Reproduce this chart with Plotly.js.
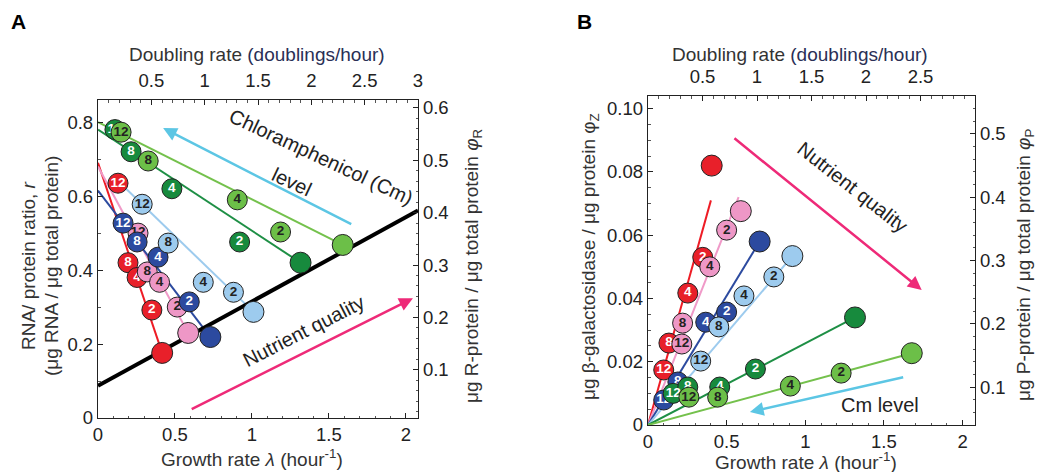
<!DOCTYPE html>
<html><head><meta charset="utf-8">
<script src="https://cdn.plot.ly/plotly-3.0.1.min.js"></script>
<style>html,body{margin:0;padding:0;background:#fff}#chart{width:1039px;height:472px}</style>
</head><body><div id="chart"></div>
<script>
// ---------- labels ----------
const pointLabels = ['12', '8', '4', '2'];
const seriesKeys = ['red', 'pink', 'darkblue', 'lightblue', 'darkgreen', 'lightgreen'];
const xTickVals = [0, 0.5, 1, 1.5, 2];
const topTickValsA = [0.5, 1, 1.5, 2, 2.5, 3];
const topTickValsB = [0.5, 1, 1.5, 2, 2.5];
const yTickValsA = [0, 0.2, 0.4, 0.6, 0.8];
const y2TickValsA = [0.1, 0.2, 0.3, 0.4, 0.5, 0.6];
const yTickValsB = [0, 0.02, 0.04, 0.06, 0.08, 0.10];
const yTickTextB = ['0', '0.02', '0.04', '0.06', '0.08', '0.10'];
const y2TickValsB = [0.1, 0.2, 0.3, 0.4, 0.5];

// ---------- Panel A: growth rate vs RNA/protein ----------
const aRedLam = [0.13, 0.195, 0.254, 0.35];
const aRedR = [0.635, 0.42, 0.38, 0.292];
const aPinkLam = [0.26, 0.32, 0.40, 0.515];
const aPinkR = [0.50, 0.395, 0.367, 0.30];
const aDarkBlueLam = [0.163, 0.254, 0.39, 0.593];
const aDarkBlueR = [0.527, 0.476, 0.435, 0.314];
const aLightBlueLam = [0.287, 0.456, 0.684, 0.88];
const aLightBlueR = [0.578, 0.473, 0.367, 0.34];
const aDarkGreenLam = [0.11, 0.215, 0.48, 0.92];
const aDarkGreenR = [0.78, 0.72, 0.62, 0.476];
const aLightGreenLam = [0.15, 0.326, 0.905, 1.186];
const aLightGreenR = [0.773, 0.695, 0.59, 0.503];
// big (no-drug) points
const aEndLam = [0.417, 0.586, 0.73, 1.01, 1.316, 1.59];
const aEndR = [0.176, 0.23, 0.219, 0.287, 0.42, 0.468];
// fitted line starts
const aStartLam = [0, 0, 0, 0.1, 0, 0];
const aStartR = [0.69, 0.68, 0.615, 0.653, 0.78, 0.80];
// black nutrient line
const aBlackLam = [0, 2.079];
const aBlackR = [0.087, 0.561];

// ---------- Panel B: growth rate vs beta-galactosidase ----------
const bRedLam = [0.10, 0.133, 0.253, 0.348];
const bRedZ = [0.0174, 0.0259, 0.0417, 0.053];
const bPinkLam = [0.215, 0.22, 0.393, 0.50];
const bPinkZ = [0.0256, 0.0322, 0.050, 0.0616];
const bDarkBlueLam = [0.10, 0.19, 0.367, 0.50];
const bDarkBlueZ = [0.0079, 0.0136, 0.0325, 0.0357];
const bLightBlueLam = [0.335, 0.45, 0.61, 0.80];
const bLightBlueZ = [0.0202, 0.031, 0.0408, 0.0468];
const bDarkGreenLam = [0.16, 0.253, 0.456, 0.683];
const bDarkGreenZ = [0.0100, 0.012, 0.012, 0.0177];
const bLightGreenLam = [0.26, 0.443, 0.905, 1.228];
const bLightGreenZ = [0.0088, 0.0088, 0.0123, 0.0164];
const bEndLam = [0.405, 0.59, 0.71, 0.918, 1.316, 1.677];
const bEndZ = [0.082, 0.0676, 0.058, 0.0534, 0.034, 0.0227];
const bLineEndLam = [0.40, 0.576, 0.71, 0.918, 1.316, 1.677];
const bLineEndZ = [0.071, 0.072, 0.058, 0.0534, 0.034, 0.0227];

// ---------- styles ----------
const fill = {red:'#e8202a', pink:'#ee97c6', darkblue:'#2c4a9f', lightblue:'#9dcbee', darkgreen:'#178a3d', lightgreen:'#6cbf48'};
const lineCol = {red:'#ee1c25', pink:'#f09ac8', darkblue:'#2c4a9f', lightblue:'#9dcbee', darkgreen:'#1e8f45', lightgreen:'#74c14c'};
const txtCol = {red:'#ffffff', pink:'#222222', darkblue:'#ffffff', lightblue:'#222222', darkgreen:'#ffffff', lightgreen:'#222222'};
const FONT = 'Liberation Sans, Arial, Helvetica, sans-serif';

const aPts = {red:[aRedLam,aRedR], pink:[aPinkLam,aPinkR], darkblue:[aDarkBlueLam,aDarkBlueR],
  lightblue:[aLightBlueLam,aLightBlueR], darkgreen:[aDarkGreenLam,aDarkGreenR], lightgreen:[aLightGreenLam,aLightGreenR]};
const bPts = {red:[bRedLam,bRedZ], pink:[bPinkLam,bPinkZ], darkblue:[bDarkBlueLam,bDarkBlueZ],
  lightblue:[bLightBlueLam,bLightBlueZ], darkgreen:[bDarkGreenLam,bDarkGreenZ], lightgreen:[bLightGreenLam,bLightGreenZ]};

const traces = [];
// lines
seriesKeys.forEach((k,i)=>{
  traces.push({type:'scatter', mode:'lines', x:[aStartLam[i], aEndLam[i]], y:[aStartR[i], aEndR[i]],
    xaxis:'x', yaxis:'y', line:{color:lineCol[k], width:2}, hoverinfo:'skip', showlegend:false});
  traces.push({type:'scatter', mode:'lines', x:[0, bLineEndLam[i]], y:[0, bLineEndZ[i]],
    xaxis:'x3', yaxis:'y3', line:{color:lineCol[k], width:2}, hoverinfo:'skip', showlegend:false});
});
traces.push({type:'scatter', mode:'lines', x:aBlackLam, y:aBlackR, xaxis:'x', yaxis:'y',
  line:{color:'#000', width:4}, hoverinfo:'skip', showlegend:false});
// markers
seriesKeys.forEach((k,i)=>{
  const mk = {size:20, color:fill[k], line:{color:'#222', width:1}};
  traces.push({type:'scatter', mode:'markers+text', x:aPts[k][0], y:aPts[k][1], text:pointLabels,
    textposition:'middle center', textfont:{family:FONT, size:13.5, color:txtCol[k], weight:'bold'},
    marker:mk, xaxis:'x', yaxis:'y', hoverinfo:'skip', showlegend:false});
  traces.push({type:'scatter', mode:'markers', x:[aEndLam[i]], y:[aEndR[i]],
    marker:{size:21, color:fill[k], line:{color:'#222', width:1}}, xaxis:'x', yaxis:'y', hoverinfo:'skip', showlegend:false});
  traces.push({type:'scatter', mode:'markers+text', x:bPts[k][0], y:bPts[k][1], text:pointLabels,
    textposition:'middle center', textfont:{family:FONT, size:13.5, color:txtCol[k], weight:'bold'},
    marker:mk, xaxis:'x3', yaxis:'y3', hoverinfo:'skip', showlegend:false});
  traces.push({type:'scatter', mode:'markers', x:[bEndLam[i]], y:[bEndZ[i]],
    marker:{size:21, color:fill[k], line:{color:'#222', width:1}}, xaxis:'x3', yaxis:'y3', hoverinfo:'skip', showlegend:false});
});
// invisible anchors for overlay axes
traces.push({type:'scatter', mode:'markers', x:[1], y:[0.3], xaxis:'x2', yaxis:'y2', marker:{opacity:0}, hoverinfo:'skip', showlegend:false});
traces.push({type:'scatter', mode:'markers', x:[1], y:[0.3], xaxis:'x4', yaxis:'y4', marker:{opacity:0}, hoverinfo:'skip', showlegend:false});

const domAx = [98/1039, 418/1039], domAy = [1-418/472, 1-100/472];
const domBx = [648/1039, 975/1039], domBy = [1-425/472, 1-96/472];
const tickFont = {family:FONT, size:18.5, color:'#222'};
function ax(extra){
  return Object.assign({showgrid:false, zeroline:false, showline:true, linecolor:'#222', linewidth:1.2,
    ticks:'inside', ticklen:5, tickcolor:'#222', tickfont:tickFont, fixedrange:true}, extra);
}
function mn(d){ return {ticks:'inside', ticklen:2.5, dtick:d, tickcolor:'#555'}; }
function lab(x, y, text, extra){
  return Object.assign({xref:'paper', yref:'paper', x:x/1039, y:1-y/472, text:text, showarrow:false,
    xanchor:'center', yanchor:'middle', font:{family:FONT, size:19, color:'#333'}}, extra||{});
}
function dtext(xr, yr, x, y, text, angle){
  return {xref:xr, yref:yr, x:x, y:y, text:text, textangle:angle||0, showarrow:false,
    xanchor:'center', yanchor:'middle', font:{family:FONT, size:20, color:'#222'}};
}
function arrow(xr, yr, x, y, axv, ayv, col){
  return {xref:xr, yref:yr, axref:xr, ayref:yr, x:x, y:y, ax:axv, ay:ayv, text:'', showarrow:true,
    arrowhead:2, arrowsize:1.1, arrowwidth:2.5, arrowcolor:col, standoff:0};
}
const titleDbl = 'Doubling rate <span style="color:#2a2f55">(doublings/hour)</span>';
const titleGr = 'Growth rate <i>λ</i> (hour<sup>-1</sup>)';
const layout = {
  width:1039, height:472, margin:{l:0, r:0, t:0, b:0}, paper_bgcolor:'#fff', plot_bgcolor:'rgba(0,0,0,0)',
  font:{family:FONT, color:'#222'}, showlegend:false,
  xaxis: ax({domain:domAx, range:[0, 2.079], tickvals:xTickVals, anchor:'y', mirror:true, minor:mn(0.1)}),
  yaxis: ax({domain:domAy, range:[0, 0.86], tickvals:yTickValsA, anchor:'x', mirror:true, minor:mn(0.1)}),
  xaxis2: ax({domain:domAx, range:[0, 3], tickvals:topTickValsA, overlaying:'x', side:'top', anchor:'y', minor:mn(0.1), ticklabelstandoff:4}),
  yaxis2: ax({domain:domAy, range:[0.008, 0.615], tickvals:y2TickValsA, overlaying:'y', side:'right', anchor:'x', minor:mn(0.02)}),
  xaxis3: ax({domain:domBx, range:[0, 2.079], tickvals:xTickVals, anchor:'y3', mirror:true, minor:mn(0.1)}),
  yaxis3: ax({domain:domBy, range:[0, 0.104], tickvals:yTickValsB, ticktext:yTickTextB, anchor:'x3', mirror:true, minor:mn(0.005)}),
  xaxis4: ax({domain:domBx, range:[0, 3], tickvals:topTickValsB, overlaying:'x3', side:'top', anchor:'y3', minor:mn(0.1), ticklabelstandoff:4}),
  yaxis4: ax({domain:domBy, range:[0.04, 0.56], tickvals:y2TickValsB, overlaying:'y3', side:'right', anchor:'x3', minor:mn(0.02)}),
  annotations: [
    arrow('x', 'y', 0.423, 0.784, 1.655, 0.522, '#5cc6e4'),
    arrow('x', 'y', 2.046, 0.324, 0.599, 0.022, '#ee2a78'),
    arrow('x3', 'y3', 1.74, 0.0427, 0.54, 0.091, '#ee2a78'),
    arrow('x3', 'y3', 0.648, 0.0041, 1.632, 0.0152, '#5cc6e4'),
    dtext('x', 'y', 1.45, 0.705, 'Chloramphenicol (Cm)', 25),
    dtext('x', 'y', 1.26, 0.637, 'level', 25),
    dtext('x', 'y', 1.336, 0.235, 'Nutrient quality', -27),
    dtext('x3', 'y3', 1.30, 0.0752, 'Nutrient quality', 38),
    dtext('x3', 'y3', 1.473, 0.0063, 'Cm level', 0),
    lab(18, 22, '<b>A</b>', {font:{family:FONT, size:21, color:'#000'}}),
    lab(584, 22, '<b>B</b>', {font:{family:FONT, size:21, color:'#000'}}),
    lab(257, 54, titleDbl),
    lab(800, 54, titleDbl),
    lab(252, 458, titleGr),
    lab(806, 461, titleGr),
    lab(28, 266, 'RNA/ protein ratio, <i>r</i>', {textangle:-90}),
    lab(51, 266, '(μg RNA / μg total protein)', {textangle:-90}),
    lab(473, 266, 'μg R-protein / μg total protein <i>φ</i><sub>R</sub>', {textangle:-90}),
    lab(590, 257, 'μg β-galactosidase / μg protein φ<sub>Z</sub>', {textangle:-90}),
    lab(1025, 265, 'μg P-protein / μg total protein <i>φ</i><sub>P</sub>', {textangle:-90})
  ]
};
Plotly.newPlot('chart', traces, layout, {staticPlot:true, displayModeBar:false});
</script>
</body></html>
